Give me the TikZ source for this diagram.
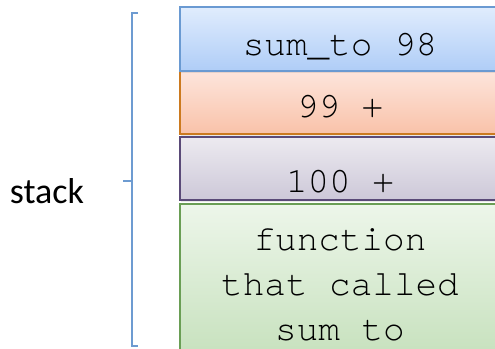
\documentclass[tikz,border=0pt]{standalone}
\usepackage{fontspec}
\setmonofont{TeX Gyre Cursor}
\newfontfamily\calib{Carlito}
\usetikzlibrary{shadows}
\definecolor{bluetop}{HTML}{E0ECFD}
\definecolor{bluebot}{HTML}{AFCDF7}
\definecolor{blueline}{HTML}{6A9AD2}
\definecolor{orgtop}{HTML}{FDE5DC}
\definecolor{orgbot}{HTML}{F9C2A9}
\definecolor{orgline}{HTML}{CC7A1F}
\definecolor{purtop}{HTML}{ECEAF0}
\definecolor{purbot}{HTML}{CDC8D8}
\definecolor{purline}{HTML}{5A4A78}
\definecolor{grntop}{HTML}{EDF6EA}
\definecolor{grnbot}{HTML}{C3DFB9}
\definecolor{grnline}{HTML}{6A9E55}
\definecolor{bracecol}{HTML}{6D9BD1}
\tikzset{
  frame/.style={rectangle, draw, line width=1.8pt, minimum width=319pt, inner sep=0pt,
    drop shadow={opacity=0.18, shadow xshift=1.2pt, shadow yshift=-1.5pt}},
  monotext/.style={font=\ttfamily\fontsize{36}{45}\selectfont, inner sep=0pt},
  bracket/.style={draw=bracecol, line width=1.4pt}
}
\begin{document}
\begin{tikzpicture}[x=1pt,y=-1pt]
\useasboundingbox (0,0) rectangle (495,348);
\clip (0,0) rectangle (495,348);
% boxes
\node[frame, draw=grnline, top color=grntop, bottom color=grnbot, minimum height=167pt] (fn) at (339.5,287.5) {};
\node[frame, draw=purline, top color=purtop, bottom color=purbot, minimum height=63pt] (p100) at (339.5,168.5) {};
\node[frame, draw=orgline, top color=orgtop, bottom color=orgbot, minimum height=63pt] (p99) at (339.5,102.5) {};
\node[frame, draw=blueline, top color=bluetop, bottom color=bluebot, minimum height=64pt] (s98) at (339.5,39) {};
% texts
\node[monotext, anchor=base] (t98) at (340,55) {sum\_to 98};
\node[monotext, anchor=base] (t99) at (340,117) {99 +};
\node[monotext, anchor=base] (t100) at (340,192) {100 +};
\node[monotext, anchor=base] (tf1) at (340,250) {function};
\node[monotext, anchor=base] (tf2) at (340,295) {that called};
\node[monotext, anchor=base] (tf3) at (340,340) {sum to};
% bracket
\coordinate (bt) at (138,13);
\coordinate (bb) at (138,346);
\coordinate (bm) at (123,181);
\draw[bracket] (bt) -- (132,13) -- (132,346) -- (bb);
\draw[bracket] (bm) -- (132,181);
% stack label
\node[font=\calib\fontsize{36}{40}\selectfont, anchor=base, inner sep=0pt] (stk) at (47,203) {stack};
\end{tikzpicture}
\end{document}
